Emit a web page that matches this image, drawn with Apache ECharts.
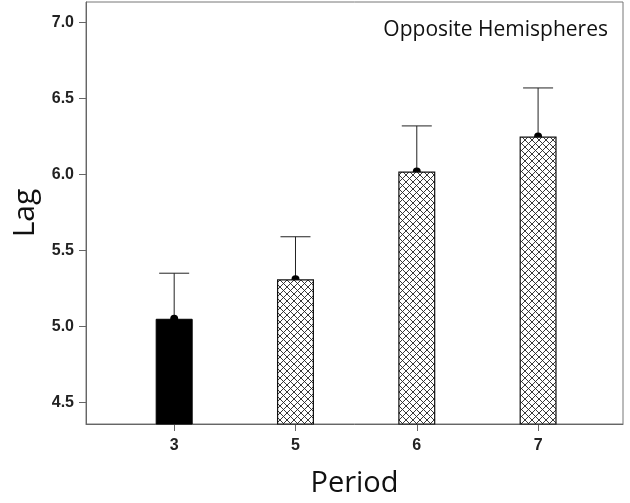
<!DOCTYPE html>
<html><head><meta charset="utf-8">
<script src="https://cdn.jsdelivr.net/npm/echarts@6/dist/echarts.min.js"></script>
<style>html,body{margin:0;padding:0;background:#fff}#c{width:630px;height:503px}</style>
</head><body><div id="c"></div>
<script>
var categories = ['3', '5', '6', '7'];
var means = [5.05, 5.31, 6.02, 6.25];
var upper = [5.35, 5.59, 6.32, 6.57];
var yTicks = [4.5, 5.0, 5.5, 6.0, 6.5, 7.0];
var panelTitle = 'Opposite Hemispheres';

function hatch() {
  var s = 7, c = document.createElement('canvas');
  c.width = s; c.height = s;
  var g = c.getContext('2d');
  g.fillStyle = '#fff'; g.fillRect(0, 0, s, s);
  g.strokeStyle = '#222'; g.lineWidth = 0.9;
  g.beginPath();
  g.moveTo(-1, -1); g.lineTo(s + 1, s + 1);
  g.moveTo(s + 1, -1); g.lineTo(-1, s + 1);
  g.stroke();
  return c;
}
var pat = { image: hatch(), repeat: 'repeat' };

var barData = means.map(function (v, i) {
  return {
    value: [i, v],
    itemStyle: i === 0 ? { color: '#000', borderColor: '#000', borderWidth: 1 }
                       : { color: pat, borderColor: '#111', borderWidth: 1.2 }
  };
});
var errData = means.map(function (v, i) { return [i, v, upper[i]]; });

var chart = echarts.init(document.getElementById('c'));
chart.setOption({
  animation: false,
  grid: { left: 86, right: 7, top: 2, bottom: 73, show: true, borderColor: '#777', borderWidth: 1 },
  title: {
    text: panelTitle, right: 17, top: 15,
    textStyle: { fontFamily: 'Open Sans', fontWeight: 'normal', fontSize: 21, color: '#111' }
  },
  xAxis: {
    type: 'value', min: -0.727, max: 3.70,
    name: 'Period', nameLocation: 'middle', nameGap: 45,
    nameTextStyle: { fontFamily: 'Open Sans', fontSize: 29, color: '#111' },
    axisLine: { show: true, onZero: false, lineStyle: { color: '#666' } },
    axisTick: { show: true, length: 7, customValues: [0, 1, 2, 3], lineStyle: { color: '#666' } },
    axisLabel: {
      customValues: [0, 1, 2, 3], margin: 14,
      formatter: function (v) { return categories[Math.round(v)]; },
      fontFamily: 'Liberation Sans', fontWeight: 'bold', fontSize: 16, color: '#222'
    },
    splitLine: { show: false }
  },
  yAxis: {
    type: 'value', min: 4.357, max: 7.136,
    name: 'Lag', nameLocation: 'middle', nameGap: 42, nameRotate: 90,
    nameTextStyle: { fontFamily: 'Open Sans', fontSize: 30, color: '#111' },
    axisLine: { show: true, onZero: false, lineStyle: { color: '#666' } },
    axisTick: { show: true, length: 7, customValues: yTicks, lineStyle: { color: '#666' } },
    axisLabel: {
      customValues: yTicks, margin: 12,
      formatter: function (v) { return v.toFixed(1); },
      fontFamily: 'Liberation Sans', fontWeight: 'bold', fontSize: 16, color: '#222'
    },
    splitLine: { show: false }
  },
  series: [
    {
      type: 'bar', data: barData, barWidth: 37, z: 3
    },
    {
      type: 'custom', z: 2, data: errData,
      renderItem: function (params, api) {
        var x = api.value(0);
        var p0 = api.coord([x, api.value(1)]);
        var p1 = api.coord([x, api.value(2)]);
        var hw = 15;
        return {
          type: 'group',
          children: [
            { type: 'line', shape: { x1: p0[0], y1: p0[1], x2: p1[0], y2: p1[1] }, style: { stroke: '#222', lineWidth: 1 } },
            { type: 'line', shape: { x1: p1[0] - hw, y1: p1[1], x2: p1[0] + hw, y2: p1[1] }, style: { stroke: '#222', lineWidth: 1 } },
            { type: 'circle', shape: { cx: p0[0], cy: p0[1], r: 4 }, style: { fill: '#000' } }
          ]
        };
      }
    }
  ]
});
</script></body></html>
